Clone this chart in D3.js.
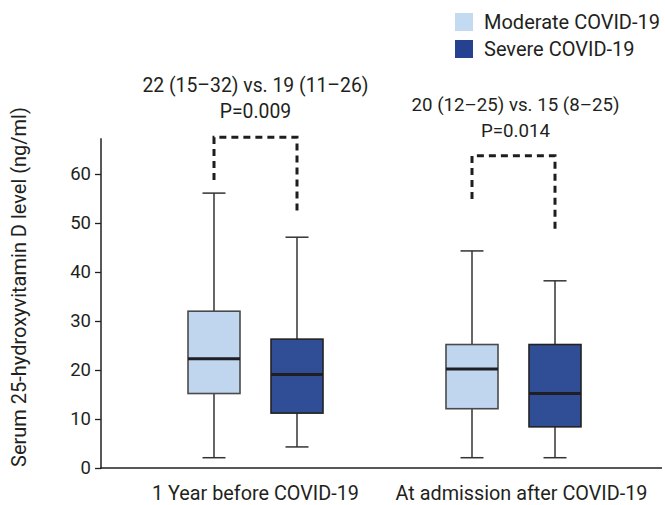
<!DOCTYPE html>
<html><head><meta charset="utf-8">
<script src="https://cdn.jsdelivr.net/npm/d3@7"></script>
<style>
body{margin:0;background:#fff}
text{font-family:Roboto,"Noto Sans",sans-serif;fill:#231f20}
</style>
</head><body>
<svg id="c" width="665" height="505"></svg>
<script>
// ---- data ----
const groups = ["1 Year before COVID-19", "At admission after COVID-19"];
const severities = ["Moderate COVID-19", "Severe COVID-19"];
const whiskerLow  = [[2.1, 4.3], [2.1, 2.1]];
const q1          = [[15.2, 11.2], [12.1, 8.4]];
const median      = [[22.3, 19.1], [20.2, 15.2]];
const q3          = [[32.0, 26.3], [25.2, 25.2]];
const whiskerHigh = [[56.1, 47.1], [44.3, 38.2]];
const compareText = ["22 (15–32) vs. 19 (11–26)", "20 (12–25) vs. 15 (8–25)"];
const pText = ["P=0.009", "P=0.014"];
const bracketTop = [67.5, 63.7];
const bracketEnds = [[58.8, 51.8], [54.9, 48.0]];
const yTicks = [0, 10, 20, 30, 40, 50, 60];
const yTitle = "Serum 25-hydroxyvitamin D level (ng/ml)";
const colors = ["#bfd6ee", "#2f4e95"];

// ---- layout ----
const FONT = "Roboto";
const svg = d3.select("#c");
const y = d3.scaleLinear().domain([0, 60]).range([468, 174]);
const yTopVal = 67.3;
const x = d3.scaleBand().domain(groups).range([126.5, 642.5]).padding(0);
const xi = d3.scaleBand().domain(severities).range([46, 212]).padding(0);
const boxW = 52, capW = 23;
const cx = (gi, si) => x(groups[gi]) + xi(severities[si]) + xi.bandwidth() / 2;
const gx = gi => x(groups[gi]) + x.bandwidth() / 2;

function fit(sel, target) {
  const n = sel.node();
  const fs = parseFloat(sel.attr("font-size"));
  const w = n.getComputedTextLength();
  sel.attr("font-size", (fs * target / w).toFixed(2));
}

// y axis
const yAxis = d3.axisLeft(y).tickValues(yTicks).tickSize(6).tickSizeOuter(0).tickPadding(4);
const ya = svg.append("g").attr("transform", "translate(101,0)").call(yAxis);
ya.select(".domain").remove();
ya.selectAll(".tick line").attr("stroke", "#231f20").attr("stroke-width", 1.3);
ya.selectAll(".tick text").attr("font-size", 18.5).attr("font-family", FONT).attr("fill", "#231f20");
svg.append("line").attr("x1", 101).attr("x2", 101).attr("y1", y(yTopVal)).attr("y2", y(0) + 0.7)
  .attr("stroke", "#231f20").attr("stroke-width", 1.5);
// x baseline
svg.append("line").attr("x1", 100.3).attr("x2", 662).attr("y1", y(0)).attr("y2", y(0))
  .attr("stroke", "#231f20").attr("stroke-width", 1.5);

// x labels
const xa = svg.append("g").attr("transform", `translate(0,${y(0)})`)
  .call(d3.axisBottom(x).tickSize(0).tickPadding(0));
xa.select(".domain").remove();
xa.selectAll(".tick text").attr("font-size", 18).attr("font-family", FONT).attr("fill", "#231f20")
  .attr("dy", 0).attr("y", 32).attr("dx", (d, i) => i === 1 ? 8 : 0);
{
  const t = xa.select(".tick text");
  const fs = 18 * 207 / t.node().getComputedTextLength();
  xa.selectAll(".tick text").attr("font-size", fs.toFixed(2));
}

// y title
const yt = svg.append("text").attr("transform", `translate(26,287) rotate(-90)`)
  .attr("text-anchor", "middle").attr("font-size", 17).text(yTitle);
fit(yt, 360);

// boxes
groups.forEach((g, gi) => {
  severities.forEach((s, si) => {
    const c = cx(gi, si);
    const gg = svg.append("g");
    const stroke = si === 0 ? "#4a4a4a" : "#222";
    gg.append("line").attr("x1", c).attr("x2", c).attr("y1", y(whiskerHigh[gi][si])).attr("y2", y(q3[gi][si]))
      .attr("stroke", "#333").attr("stroke-width", 1.5);
    gg.append("line").attr("x1", c).attr("x2", c).attr("y1", y(q1[gi][si])).attr("y2", y(whiskerLow[gi][si]))
      .attr("stroke", "#333").attr("stroke-width", 1.5);
    [whiskerHigh, whiskerLow].forEach(arr => {
      gg.append("line").attr("x1", c - capW / 2).attr("x2", c + capW / 2)
        .attr("y1", y(arr[gi][si])).attr("y2", y(arr[gi][si]))
        .attr("stroke", "#333").attr("stroke-width", 1.5);
    });
    gg.append("rect").attr("x", c - boxW / 2).attr("width", boxW)
      .attr("y", y(q3[gi][si])).attr("height", y(q1[gi][si]) - y(q3[gi][si]))
      .attr("fill", colors[si]).attr("stroke", stroke).attr("stroke-width", 1.6);
    gg.append("line").attr("x1", c - boxW / 2).attr("x2", c + boxW / 2)
      .attr("y1", y(median[gi][si])).attr("y2", y(median[gi][si]))
      .attr("stroke", "#1e1e24").attr("stroke-width", 3);
  });
});

// brackets + annotations
groups.forEach((g, gi) => {
  const l = cx(gi, 0), r = cx(gi, 1), top = y(bracketTop[gi]);
  svg.append("path")
    .attr("d", `M${l},${y(bracketEnds[gi][0])}V${top}H${r}V${y(bracketEnds[gi][1])}`)
    .attr("fill", "none").attr("stroke", "#1e1e1e").attr("stroke-width", 3)
    .attr("stroke-dasharray", "7,5");
  const c = gx(gi) + (gi === 1 ? 2 : 0);
  const t1 = svg.append("text").attr("x", c).attr("y", top - 45).attr("text-anchor", "middle")
    .attr("font-size", 18).text(compareText[gi]);
  fit(t1, gi === 0 ? 226 : 208);
  svg.append("text").attr("x", c).attr("y", top - 19).attr("text-anchor", "middle")
    .attr("font-size", t1.attr("font-size")).text(pText[gi]);
});

// legend
const lg = svg.append("g");
severities.forEach((s, si) => {
  lg.append("rect").attr("x", 455).attr("y", 13 + si * 27).attr("width", 18).attr("height", 18)
    .attr("fill", si === 0 ? "#c3daf0" : "#26418f");
  lg.append("text").attr("x", 484).attr("y", 29 + si * 27).attr("font-size", 18).text(s);
});
{
  const t = lg.select("text");
  const fs = 18 * 176 / t.node().getComputedTextLength();
  lg.selectAll("text").attr("font-size", fs.toFixed(2));
}
</script>
</body></html>
